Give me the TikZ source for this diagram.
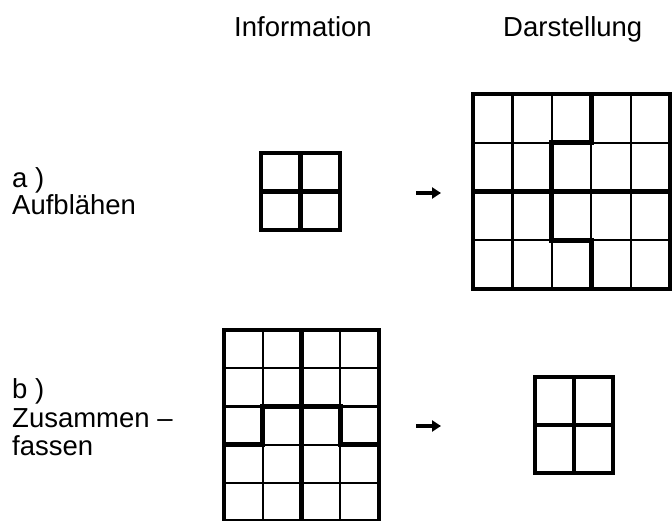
\documentclass[tikz,border=0pt]{standalone}
\usepackage{fontspec}
\setmainfont{Liberation Sans}
\usetikzlibrary{arrows.meta}
\begin{document}
\begin{tikzpicture}[x=1pt,y=-1pt,
  thingrid/.style={line width=2.2pt},
  thickgrid/.style={line width=4.8pt, line cap=rect, line join=miter},
  lbl/.style={font=\fontsize{27.5}{29}\selectfont, anchor=base west, inner sep=0pt},
  arr/.style={line width=3.6pt, -{Triangle[length=9pt,width=11pt]}}]
\useasboundingbox (0,0) rectangle (672,521);

% headings
\node[lbl] (hinfo) at (234,37) {Information};
\node[lbl] (hdar) at (503,37) {Darstellung};

% labels
\node[lbl] (la1) at (12,188) {a )};
\node[lbl] (la2) at (12,215) {Aufblähen};
\node[lbl] (lb1) at (12,398) {b )};
\node[lbl] (lb2) at (12,427) {Zusammen –};
\node[lbl] (lb3) at (12,455) {fassen};

% ---- a) small grid (information)
\draw[thickgrid] (261,153) rectangle (340,230);
\draw[thickgrid] (300.5,153) -- (300.5,230);
\draw[thickgrid] (261,191.5) -- (340,191.5);

% ---- a) big grid (representation) 5 x 4
\foreach \x in {512.4,551.8,591.2,630.6}
  \draw[thingrid] (\x,94) -- (\x,289);
\foreach \y in {142.75,240.25}
  \draw[thingrid] (473,\y) -- (670,\y);
\draw[thickgrid] (473,94) rectangle (670,289);
\draw[thickgrid] (473,191.5) -- (670,191.5);
\draw[thickgrid] (591.2,94) -- (591.2,142.75) -- (551.8,142.75)
  -- (551.8,240.25) -- (591.2,240.25) -- (591.2,289);

% ---- b) big grid (information) 4 x 5
\foreach \x in {262.75,340.25}
  \draw[thingrid] (\x,330) -- (\x,521);
\foreach \y in {368.2,406.4,444.6,482.8}
  \draw[thingrid] (224,\y) -- (379,\y);
\draw[thickgrid] (224,330) rectangle (379,521);
\draw[thickgrid] (301.5,330) -- (301.5,521);
\draw[thickgrid] (224,444.6) -- (262.75,444.6) -- (262.75,406.4)
  -- (340.25,406.4) -- (340.25,444.6) -- (379,444.6);

% ---- b) small grid (representation)
\draw[thickgrid] (535,377) rectangle (613,473);
\draw[thickgrid] (574,377) -- (574,473);
\draw[thickgrid] (535,425) -- (613,425);

% arrows
\coordinate (a1s) at (416,193);
\coordinate (a1e) at (441,193);
\coordinate (a2s) at (416,426);
\coordinate (a2e) at (441,426);
\draw[arr] (a1s) -- (a1e);
\draw[arr] (a2s) -- (a2e);
\end{tikzpicture}
\end{document}
